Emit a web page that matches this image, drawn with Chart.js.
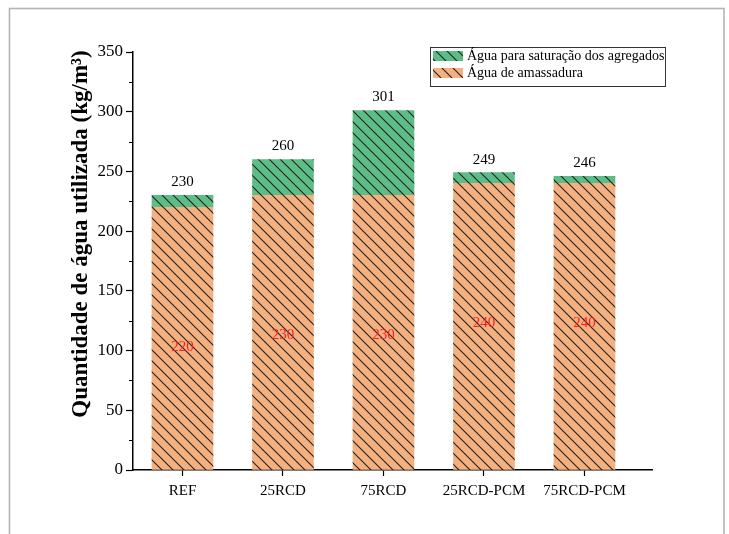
<!DOCTYPE html>
<html>
<head>
<meta charset="utf-8">
<script src="https://cdn.jsdelivr.net/npm/chart.js@4/dist/chart.umd.min.js"></script>
<style>
  html, body { margin: 0; padding: 0; background: #fff; }
  #wrap { width: 729px; height: 534px; position: relative; }
</style>
</head>
<body>
<div id="wrap"><canvas id="c" width="729" height="534"></canvas></div>
<script>
// Water used per mix (kg/m3)
const categories = ['REF', '25RCD', '75RCD', '25RCD-PCM', '75RCD-PCM'];
const mixingWater = [220, 230, 230, 240, 240];       // Água de amassadura
const totalWater = [230, 260, 301, 249, 246];         // total per mix
const seriesNames = ['Água para saturação dos agregados', 'Água de amassadura'];
const yTicks = [0, 50, 100, 150, 200, 250, 300, 350];
const yMinorTicks = [25, 75, 125, 175, 225, 275, 325];

// saturation water is the part of the total above the mixing water
const saturationWater = totalWater.map((t, i) => t - mixingWater[i]);

const SERIF = "'Liberation Serif', 'Times New Roman', serif";
const ORANGE = '#F5B07F';
const GREEN = '#5CBD86';

function hatch(color) {
  const s = 11;
  const c = document.createElement('canvas');
  c.width = s; c.height = s;
  const g = c.getContext('2d');
  g.fillStyle = color;
  g.fillRect(0, 0, s, s);
  g.strokeStyle = '#222';
  g.lineWidth = 1.1;
  g.beginPath();
  g.moveTo(-1, -1); g.lineTo(s + 1, s + 1);
  g.moveTo(s - 1, -1); g.lineTo(s + 1, 1);
  g.moveTo(-1, s - 1); g.lineTo(1, s + 1);
  g.stroke();
  return g.createPattern(c, 'repeat');
}
const orangeFill = hatch(ORANGE);
const greenFill = hatch(GREEN);

const decorations = {
  id: 'decorations',
  beforeDraw(chart) {
    const ctx = chart.ctx;
    ctx.save();
    ctx.fillStyle = '#fff';
    ctx.fillRect(0, 0, chart.width, chart.height);
    ctx.strokeStyle = '#b4b4b4';
    ctx.lineWidth = 1.6;
    ctx.strokeRect(9.5, 8.5, 714.5, 600);
    ctx.restore();
  },
  afterDraw(chart) {
    const ctx = chart.ctx;
    const y = chart.scales.y;
    const left = chart.chartArea.left;
    ctx.save();
    // minor ticks on the value axis
    ctx.strokeStyle = '#000';
    ctx.lineWidth = 1.2;
    ctx.beginPath();
    yMinorTicks.forEach(v => {
      const py = Math.round(y.getPixelForValue(v)) + 0.5;
      ctx.moveTo(left - 4, py);
      ctx.lineTo(left, py);
    });
    ctx.stroke();

    // axis title
    ctx.fillStyle = '#000';
    ctx.font = 'bold 23px ' + SERIF;
    ctx.textAlign = 'center';
    ctx.textBaseline = 'middle';
    ctx.translate(81, 234);
    ctx.rotate(-Math.PI / 2);
    ctx.fillText('Quantidade de água utilizada (kg/m³)', 0, 0);
    ctx.restore();

    // legend
    ctx.save();
    ctx.strokeStyle = '#333';
    ctx.lineWidth = 1;
    ctx.strokeRect(430.5, 47.5, 235, 39);
    const fills = [greenFill, orangeFill];
    const rows = [56, 73];
    ctx.font = '14px ' + SERIF;
    ctx.textAlign = 'left';
    ctx.textBaseline = 'middle';
    rows.forEach((ry, k) => {
      ctx.fillStyle = fills[k];
      ctx.fillRect(433, ry - 5, 30, 10);
      ctx.fillStyle = '#000';
      ctx.fillText(seriesNames[k], 467, ry);
    });
    ctx.restore();
  },
  afterDatasetsDraw(chart) {
    const ctx = chart.ctx;
    const x = chart.scales.x;
    const y = chart.scales.y;
    ctx.save();
    ctx.font = '15px ' + SERIF;
    ctx.textAlign = 'center';
    ctx.textBaseline = 'middle';
    categories.forEach((c, i) => {
      const px = x.getPixelForValue(i + 1);
      ctx.fillStyle = '#000';
      ctx.fillText(String(totalWater[i]), px, y.getPixelForValue(totalWater[i]) - 13);
      ctx.fillStyle = '#FF1E1E';
      ctx.fillText(String(mixingWater[i]), px, y.getPixelForValue(mixingWater[i]) + 140);
    });
    ctx.restore();
  }
};

new Chart(document.getElementById('c'), {
  type: 'bar',
  data: {
    datasets: [
      {
        label: seriesNames[1],
        data: mixingWater.map((v, i) => ({ x: i + 1, y: v })),
        backgroundColor: orangeFill,
        borderWidth: 0,
        barThickness: 61
      },
      {
        label: seriesNames[0],
        data: saturationWater.map((v, i) => ({ x: i + 1, y: v })),
        backgroundColor: greenFill,
        borderWidth: 0,
        barThickness: 61
      }
    ]
  },
  options: {
    responsive: false,
    animation: false,
    devicePixelRatio: 1,
    layout: { padding: { top: 52, right: 77, bottom: 0, left: 0 } },
    plugins: { legend: { display: false }, tooltip: { enabled: false } },
    scales: {
      x: {
        type: 'linear',
        stacked: true,
        offset: false,
        min: 0.5075,
        max: 5.672,
        afterBuildTicks: s => { s.ticks = categories.map((c, i) => ({ value: i + 1 })); },
        afterFit: s => { s.height = 64; },
        border: { color: '#000', width: 1.5 },
        grid: { offset: false, drawOnChartArea: false, color: '#000', tickLength: 6, tickWidth: 1.2 },
        ticks: {
          callback: v => categories[v - 1],
          autoSkip: false,
          maxRotation: 0,
          color: '#000',
          padding: 6,
          font: { family: SERIF, size: 15 }
        }
      },
      y: {
        stacked: true,
        min: 0,
        max: 350,
        afterBuildTicks: s => { s.ticks = yTicks.map(v => ({ value: v })); },
        afterFit: s => { s.width = 133; },
        border: { color: '#000', width: 1.5 },
        grid: { drawOnChartArea: false, color: '#000', tickLength: 7, tickWidth: 1.2 },
        ticks: {
          color: '#000',
          padding: 3,
          font: { family: SERIF, size: 17 }
        }
      }
    }
  },
  plugins: [decorations]
});
</script>
</body>
</html>
